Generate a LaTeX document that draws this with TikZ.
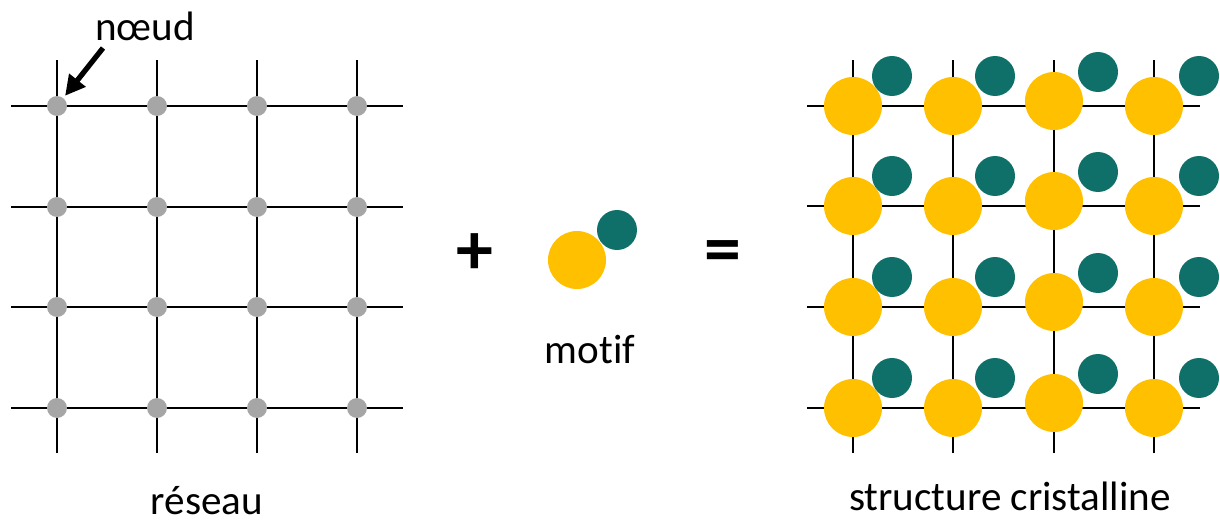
\documentclass[tikz,border=0pt]{standalone}
\usepackage{fontspec}
\setmainfont{Carlito}[Ligatures=NoCommon]
\usepackage{tikz}
\usetikzlibrary{arrows.meta}
\definecolor{jaune}{HTML}{FFC000}
\definecolor{vert}{HTML}{0E7068}
\definecolor{gris}{HTML}{A6A6A6}
\tikzset{
	dot/.style={circle,fill=gris,minimum size=0.2cm,inner sep=0pt,outer sep=0.03cm},
	grille/.style={line width=0.6pt},
	label/.style={anchor=base,inner sep=0pt,font=\fontsize{11.7}{14}\selectfont},
	signe/.style={inner sep=0pt,font=\fontsize{21}{21}\selectfont\bfseries},
	fleche/.style={line width=1.5pt,-{Triangle[length=0.2cm,width=0.2cm]}}
}
\begin{document}
\begin{tikzpicture}
					\useasboundingbox (0,0) rectangle (12.2,5.19);
					% reseau
					\foreach \y in {4.13,3.12,2.12,1.11}\draw[grille] (0.11,\y)--(4.03,\y);
					\foreach \x in {0.57,1.57,2.57,3.57}\draw[grille] (\x,0.66)--(\x,4.59);
					\foreach \x[count=\i] in {0.57,1.57,2.57,3.57}
						\foreach \y[count=\j] in {4.13,3.12,2.12,1.11}
							\node[dot] (d\i\j) at (\x,\y){};
					\node[label] (noeud) at (1.45,4.78){nœud};
					\coordinate (depart) at (1.03,4.71);
					\draw[fleche] (depart)--(d11);
					\node[label] (reseau) at (2.07,0.05){réseau};
					% motif
					\node[signe] (plus) at (4.75,2.65){+};
					\fill[vert] (6.17,2.89) circle (0.2);
					\fill[jaune] (5.77,2.59) circle (0.29);
					\node[label] (motif) at (5.90,1.56){motif};
					\node[signe] (egal) at (7.23,2.62){=};
					% structure cristalline
					\foreach \y in {4.13,3.13,2.12,1.11}\draw[grille] (8.07,\y)--(12.0,\y);
					\foreach \x in {8.53,9.53,10.54,11.54}\draw[grille] (\x,0.66)--(\x,4.59);
					\foreach \x/\dx/\dy/\dz in {8.53/0.39/0/0.30,9.53/0.42/0/0.30,10.54/0.44/0.05/0.34,11.54/0.45/0/0.30}
						\foreach \y in {4.13,3.13,2.12,1.11}{
							\fill[vert] (\x+\dx,\y+\dz) circle (0.2);
							\fill[jaune] (\x,\y+\dy) circle (0.29);
						}
					\node[label] (cristal) at (10.10,0.09){structure cristalline};
				\end{tikzpicture}
\end{document}
